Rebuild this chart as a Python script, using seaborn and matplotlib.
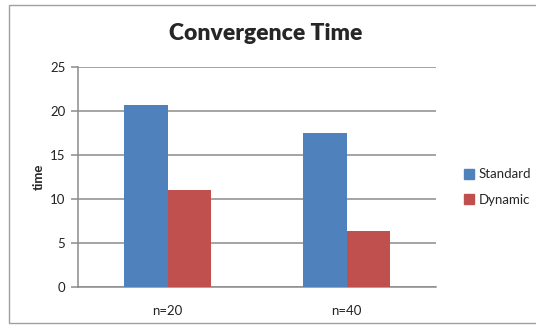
import matplotlib
matplotlib.use("Agg")
import matplotlib.pyplot as plt
import matplotlib.patches as mpatches
import seaborn as sns
import pandas as pd

# Convergence time per network size and method
categories = ["n=20", "n=40"]
series = ["Standard", "Dynamic"]
standard_values = [20.7, 17.5]
dynamic_values = [11.0, 6.4]
y_ticks = [0, 5, 10, 15, 20, 25]

df = pd.DataFrame({
    "size": categories * 2,
    "method": [series[0]] * 2 + [series[1]] * 2,
    "time": standard_values + dynamic_values,
})

sns.set_theme(style="white")
plt.rcParams["font.family"] = ["Lato", "DejaVu Sans"]

W, H = 536, 325
fig = plt.figure(figsize=(W / 100, H / 100), dpi=100)
ax = fig.add_axes([78 / W, 1 - 287 / H, (436 - 78) / W, (287 - 67) / H])

palette = {"Standard": "#4F81BD", "Dynamic": "#C0504D"}
sns.barplot(data=df, x="size", y="time", hue="method", palette=palette,
            width=0.49, saturation=1, ax=ax, legend=False, zorder=3)
for p in ax.patches:
    p.set_edgecolor("none")

ax.set_ylim(0, 25)
ax.set_yticks(y_ticks)
ax.set_xlim(-0.5, 1.5)
ax.yaxis.grid(True, color="#8c8c8c", linewidth=1.1, zorder=0)
ax.set_axisbelow(True)
for side in ["top", "right"]:
    ax.spines[side].set_visible(False)
ax.spines["left"].set_color("#8c8c8c")
ax.spines["bottom"].set_color("#8c8c8c")
ax.spines["left"].set_linewidth(1.1)
ax.spines["bottom"].set_linewidth(1.1)
ax.tick_params(axis="y", which="both", left=True, length=5, width=1.1,
               color="#8c8c8c", labelsize=9.5, labelcolor="#222222", pad=4)
ax.tick_params(axis="x", bottom=False, labelsize=9.5, labelcolor="#222222", pad=7)
ax.set_xlabel("")
ax.set_ylabel("time", fontsize=9.5, fontweight="bold", labelpad=4)

fig.suptitle("Convergence Time", x=266 / W, y=1 - 23 / H, fontsize=16.5,
             fontweight="heavy", va="top")

handles = [mpatches.Patch(color=palette[s], label=s) for s in series]
fig.legend(handles=handles, loc="center left", bbox_to_anchor=(452 / W, 1 - 187 / H),
           frameon=False, fontsize=9.5, handlelength=0.8, handleheight=0.8,
           handletextpad=0.3, labelspacing=1.0)

# chart frame
fig.patches.append(mpatches.Rectangle((9 / W, 1 - 323 / H), 1.1, (323 - 5) / H,
                                      transform=fig.transFigure, fill=False,
                                      edgecolor="#a0a0a0", linewidth=1.0))

fig.savefig("out.png", dpi=100)
